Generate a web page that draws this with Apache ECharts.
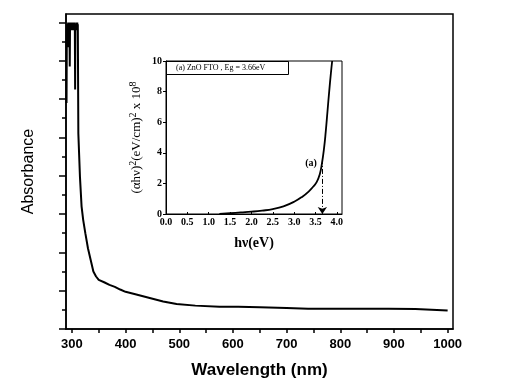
<!DOCTYPE html>
<html>
<head>
<meta charset="utf-8">
<script src="https://cdn.jsdelivr.net/npm/echarts@6/dist/echarts.min.js"></script>
<style>
  html, body { margin: 0; padding: 0; background: #fff; }
  #chart { width: 512px; height: 390px; }
</style>
</head>
<body>
<div id="chart"></div>
<script>
// main spectrum (absorbance, arbitrary units, no tick labels)
const wavelength = [290, 290.5, 291, 291.5, 292, 292.5, 293, 293.5, 294, 294.5, 295, 295.5, 296, 296.5, 297, 297.5, 298, 298.5,
    299, 299.5, 300, 300.5, 301, 301.5, 302, 302.5, 303, 303.5, 304, 304.5, 305, 305.5, 306, 306.5, 307, 307.5, 308, 308.5,
    309, 309.5, 310, 310.5, 311,
    312, 315, 318, 321, 325, 330, 335, 340, 345, 350, 360, 370, 380, 390, 400, 420, 445, 470, 495, 530, 575, 610, 650, 700,
    740, 790, 840, 890, 940, 970, 1000]
const absorbance = [5.9, 7.6, 7.95, 7.8, 7.35, 7.85, 8.0, 7.8, 7.95, 7.8, 8.0, 7.85, 6.85, 7.9, 7.95, 7.8, 8.0, 7.85,
    7.95, 7.8, 8.0, 7.85, 7.95, 7.8, 8.0, 7.85, 7.95, 7.8, 8.0, 7.85, 7.95, 7.8, 6.25, 7.85, 7.95, 7.8, 8.0, 7.85,
    7.95, 7.8, 8.0, 7.85, 7.95,
    5.1, 3.97, 3.2, 2.85, 2.5, 2.1, 1.8, 1.5, 1.37, 1.28, 1.22, 1.15, 1.1, 1.03, 0.97, 0.9, 0.81, 0.72, 0.65, 0.61, 0.58, 0.58, 0.57, 0.55,
    0.53, 0.53, 0.53, 0.53, 0.52, 0.5, 0.48]
const wlTicks = [300, 350, 400, 450, 500, 550, 600, 650, 700, 750, 800, 850, 900, 950, 1000]
const wlLabels = [300, 400, 500, 600, 700, 800, 900, 1000]
const absMajor = [0, 1, 2, 3, 4, 5, 6, 7, 8]
const absMinor = [0.5, 1.5, 2.5, 3.5, 4.5, 5.5, 6.5, 7.5]

// inset: Tauc plot
const photonEnergy = [1.25, 1.5, 1.75, 2.0, 2.25, 2.5, 2.75, 3.0, 3.2, 3.35, 3.45, 3.53, 3.6, 3.65, 3.7, 3.74, 3.78, 3.82, 3.86, 3.89]
const tauc = [0, 0.05, 0.1, 0.15, 0.22, 0.32, 0.5, 0.8, 1.15, 1.5, 1.8, 2.1, 2.6, 3.3, 4.3, 5.4, 6.7, 8.0, 9.2, 10]
const evLabels = [0, 0.5, 1, 1.5, 2, 2.5, 3, 3.5, 4]
const EG = 3.66
const labelIndex = 13

const sans = 'Liberation Sans'
const serif = 'Liberation Serif'

const chart = echarts.init(document.getElementById('chart'))

const insetData = photonEnergy.map((x, i) => {
    if (i === labelIndex) {
        return {
            value: [x, tauc[i]],
            label: {
                show: true, formatter: '(a)', position: 'left', distance: 5,
                fontFamily: serif, fontWeight: 'bold', fontSize: 10, color: '#000'
            }
        }
    }
    return [x, tauc[i]]
})

const option = {
    backgroundColor: '#fff',
    animation: false,
    title: {
        text: '(a) ZnO FTO , Eg = ' + EG + 'eV',
        left: 166,
        top: 61,
        borderColor: '#000',
        borderWidth: 1,
        padding: [3, 24, 3, 10],
        textStyle: { fontFamily: serif, fontSize: 8, fontWeight: 'normal', color: '#000' }
    },
    grid: [
        { left: 66, right: 59, top: 14, bottom: 61, show: true, borderColor: '#000', borderWidth: 1.5, backgroundColor: '#fff' },
        { left: 166, right: 170, top: 61, bottom: 176, show: true, borderColor: '#000', borderWidth: 1, backgroundColor: '#fff' }
    ],
    xAxis: [
        {
            gridIndex: 0, type: 'value', min: 289, max: 1010,
            name: 'Wavelength (nm)', nameLocation: 'middle', nameGap: 33,
            nameTextStyle: { fontFamily: sans, fontWeight: 'bold', fontSize: 17, color: '#000' },
            axisLine: { lineStyle: { color: '#000', width: 1.5 } },
            axisTick: { show: true, length: 4, customValues: wlTicks, lineStyle: { color: '#000', width: 1.5 } },
            axisLabel: {
                customValues: wlLabels, margin: 9, fontFamily: sans, fontWeight: 'bold', fontSize: 13, color: '#000',
                formatter: v => String(v)
            },
            splitLine: { show: false }
        },
        {
            gridIndex: 1, type: 'value', min: 0, max: 4.12,
            name: 'hν(eV)', nameLocation: 'middle', nameGap: 22,
            nameTextStyle: { fontFamily: serif, fontWeight: 'bold', fontSize: 14, color: '#000' },
            axisLine: { lineStyle: { color: '#000', width: 1 } },
            axisTick: { show: true, inside: true, length: 2, customValues: evLabels, lineStyle: { color: '#000' } },
            axisLabel: {
                customValues: evLabels, margin: 3, fontFamily: serif, fontWeight: 'bold', fontSize: 10, color: '#000',
                formatter: v => v.toFixed(1)
            },
            splitLine: { show: false }
        }
    ],
    yAxis: [
        {
            gridIndex: 0, type: 'value', min: 0, max: 8.22, position: 'left',
            name: 'Absorbance', nameLocation: 'middle', nameGap: 29,
            nameTextStyle: { fontFamily: sans, fontSize: 16, color: '#000' },
            axisLine: { lineStyle: { color: '#000', width: 1.5 } },
            axisTick: { show: true, length: 7, customValues: absMajor, lineStyle: { color: '#000', width: 1.5 } },
            axisLabel: { show: false },
            splitLine: { show: false }
        },
        {
            gridIndex: 1, type: 'value', min: 0, max: 10, interval: 2, position: 'left',
            name: '{t|(αhν)}{s|2}{t|(eV/cm)}{s|2}{t| x 10}{s|8}', nameLocation: 'middle', nameGap: 20,
            nameTextStyle: {
                color: '#000',
                rich: {
                    t: { fontFamily: serif, fontSize: 13, color: '#000' },
                    s: { fontFamily: serif, fontSize: 10, color: '#000', verticalAlign: 'top', padding: [0, 0, 8, 0] }
                }
            },
            axisLine: { lineStyle: { color: '#000', width: 1 } },
            axisTick: { show: true, length: 3, lineStyle: { color: '#000' } },
            axisLabel: { margin: 4, fontFamily: serif, fontWeight: 'bold', fontSize: 10, color: '#000' },
            splitLine: { show: false }
        },
        {
            gridIndex: 0, type: 'value', min: 0, max: 8.22, position: 'left', offset: 0,
            axisLine: { show: false, onZero: false },
            axisTick: { show: true, length: 4, customValues: absMinor, lineStyle: { color: '#000', width: 1.5 } },
            axisLabel: { show: false },
            splitLine: { show: false }
        }
    ],
    series: [
        {
            type: 'line', xAxisIndex: 0, yAxisIndex: 0,
            data: wavelength.map((x, i) => [x, absorbance[i]]),
            showSymbol: false, smooth: false,
            lineStyle: { color: '#000', width: 2 }
        },
        {
            type: 'line', xAxisIndex: 1, yAxisIndex: 1,
            data: insetData,
            showSymbol: true, symbol: 'circle', symbolSize: 0.1, smooth: true,
            itemStyle: { color: '#000' },
            lineStyle: { color: '#000', width: 1.8 },
            markLine: {
                silent: true,
                symbol: ['none', 'arrow'],
                symbolSize: 7,
                label: { show: false },
                lineStyle: { color: '#000', width: 1, type: [5, 2, 1, 2] },
                data: [[{ coord: [EG, 3.6] }, { coord: [EG, 0] }]]
            }
        }
    ]
}

chart.setOption(option)
</script>
</body>
</html>
